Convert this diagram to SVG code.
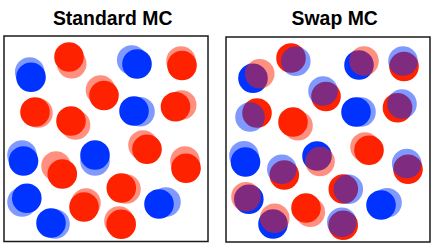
<svg xmlns="http://www.w3.org/2000/svg" width="436" height="248" viewBox="0 0 436 248">
<style>
.t{font-family:"Liberation Sans",Arial,sans-serif;font-weight:bold;font-size:19.4px;fill:#000;text-anchor:middle}
.box{fill:#fff;stroke:#1a1a1a;stroke-width:1.5}
.b{fill:#0033ff}
.r{fill:#ff2200}
.lb{fill:#0033ff;fill-opacity:0.5}
.lr{fill:#ff2200;fill-opacity:0.5}
circle{stroke:none}
</style>
<rect width="436" height="248" fill="#fff"/>
<text class="t" x="112.7" y="24.7">Standard MC</text>
<text class="t" x="334.7" y="24.7">Swap MC</text>
<rect class="box" x="4" y="36" width="204" height="205.5"/>
<rect class="box" x="226" y="37" width="204" height="205"/>
<g id="standard">
<g id="s1"><circle class="b" cx="31" cy="77.3" r="14.8"/><circle class="lb" cx="29.7" cy="72" r="14.8"/></g>
<g id="s2"><circle class="r" cx="69" cy="57" r="14.8"/><circle class="lr" cx="71.7" cy="63.7" r="14.8"/></g>
<g id="s3"><circle class="b" cx="137" cy="64" r="14.8"/><circle class="lb" cx="131.7" cy="60" r="14.8"/></g>
<g id="s4"><circle class="r" cx="182" cy="65.5" r="14.8"/><circle class="lr" cx="181" cy="61" r="14.8"/></g>
<g id="s5"><circle class="r" cx="104" cy="95.5" r="14.8"/><circle class="lr" cx="100.5" cy="90" r="14.8"/></g>
<g id="s6"><circle class="r" cx="35" cy="112" r="14.8"/><circle class="lr" cx="38" cy="113" r="14.8"/></g>
<g id="s7"><circle class="r" cx="71" cy="121" r="14.8"/><circle class="lr" cx="75.5" cy="125" r="14.8"/></g>
<g id="s8"><circle class="b" cx="134" cy="111" r="14.8"/><circle class="lb" cx="140" cy="111.7" r="14.8"/></g>
<g id="s9"><circle class="r" cx="175.5" cy="106.7" r="14.8"/><circle class="lr" cx="181.7" cy="105" r="14.8"/></g>
<g id="s10"><circle class="b" cx="23.5" cy="161" r="14.8"/><circle class="lb" cx="22" cy="155" r="14.8"/></g>
<g id="s11"><circle class="r" cx="62.3" cy="174" r="14.8"/><circle class="lr" cx="56" cy="166" r="14.8"/></g>
<g id="s12"><circle class="b" cx="95" cy="155" r="14.8"/><circle class="lb" cx="95" cy="161" r="14.8"/></g>
<g id="s13"><circle class="r" cx="147" cy="149.3" r="14.8"/><circle class="lr" cx="143" cy="145" r="14.8"/></g>
<g id="s14"><circle class="r" cx="186" cy="168.3" r="14.8"/><circle class="lr" cx="185" cy="161" r="14.8"/></g>
<g id="s15"><circle class="r" cx="121.3" cy="188" r="14.8"/><circle class="lr" cx="126" cy="189" r="14.8"/></g>
<g id="s16"><circle class="b" cx="26.8" cy="198.3" r="14.8"/><circle class="lb" cx="22" cy="202" r="14.8"/></g>
<g id="s17"><circle class="r" cx="84" cy="207" r="14.8"/><circle class="lr" cx="86" cy="203" r="14.8"/></g>
<g id="s18"><circle class="b" cx="159" cy="204" r="14.8"/><circle class="lb" cx="166" cy="202" r="14.8"/></g>
<g id="s19"><circle class="b" cx="51" cy="223" r="14.8"/><circle class="lb" cx="55" cy="224" r="14.8"/></g>
<g id="s20"><circle class="r" cx="121.2" cy="224.3" r="14.8"/><circle class="lr" cx="119" cy="221" r="14.8"/></g>
</g>
<g id="swap">
<g id="w1"><circle class="b" cx="253" cy="78.3" r="14.8"/><circle class="lr" cx="259.7" cy="73.8" r="14.8"/></g>
<g id="w2"><circle class="r" cx="291" cy="58" r="14.8"/><circle class="lb" cx="295.8" cy="61.3" r="14.8"/></g>
<g id="w3"><circle class="b" cx="359" cy="65" r="14.8"/><circle class="lr" cx="364" cy="61" r="14.8"/></g>
<g id="w4"><circle class="r" cx="404" cy="66.5" r="14.8"/><circle class="lb" cx="403" cy="61" r="14.8"/></g>
<g id="w5"><circle class="r" cx="326" cy="96.5" r="14.8"/><circle class="lb" cx="323" cy="91" r="14.8"/></g>
<g id="w6"><circle class="r" cx="257" cy="113" r="14.8"/><circle class="lb" cx="250" cy="117" r="14.8"/></g>
<g id="w7"><circle class="r" cx="293" cy="122" r="14.8"/><circle class="lr" cx="298" cy="125.7" r="14.8"/></g>
<g id="w8"><circle class="b" cx="356" cy="112" r="14.8"/><circle class="lb" cx="361" cy="112" r="14.8"/></g>
<g id="w9"><circle class="r" cx="397.5" cy="107.7" r="14.8"/><circle class="lb" cx="402" cy="104" r="14.8"/></g>
<g id="w10"><circle class="b" cx="245.5" cy="162" r="14.8"/><circle class="lb" cx="244" cy="155.7" r="14.8"/></g>
<g id="w11"><circle class="r" cx="284.3" cy="175" r="14.8"/><circle class="lb" cx="281.8" cy="169.3" r="14.8"/></g>
<g id="w12"><circle class="b" cx="317" cy="156" r="14.8"/><circle class="lr" cx="320" cy="161.5" r="14.8"/></g>
<g id="w13"><circle class="r" cx="369" cy="150.3" r="14.8"/><circle class="lr" cx="365" cy="147" r="14.8"/></g>
<g id="w14"><circle class="r" cx="408" cy="169.3" r="14.8"/><circle class="lb" cx="406.7" cy="163.5" r="14.8"/></g>
<g id="w15"><circle class="r" cx="343.3" cy="189" r="14.8"/><circle class="lb" cx="348.3" cy="189.3" r="14.8"/></g>
<g id="w16"><circle class="b" cx="248.8" cy="199.3" r="14.8"/><circle class="lr" cx="246" cy="196.8" r="14.8"/></g>
<g id="w17"><circle class="r" cx="306" cy="208" r="14.8"/><circle class="lr" cx="310.3" cy="212.3" r="14.8"/></g>
<g id="w18"><circle class="b" cx="381" cy="205" r="14.8"/><circle class="lb" cx="387" cy="202.7" r="14.8"/></g>
<g id="w19"><circle class="b" cx="273" cy="224" r="14.8"/><circle class="lr" cx="274.7" cy="218.3" r="14.8"/></g>
<g id="w20"><circle class="r" cx="343.2" cy="225.3" r="14.8"/><circle class="lb" cx="341.8" cy="222.3" r="14.8"/></g>
</g>
</svg>
